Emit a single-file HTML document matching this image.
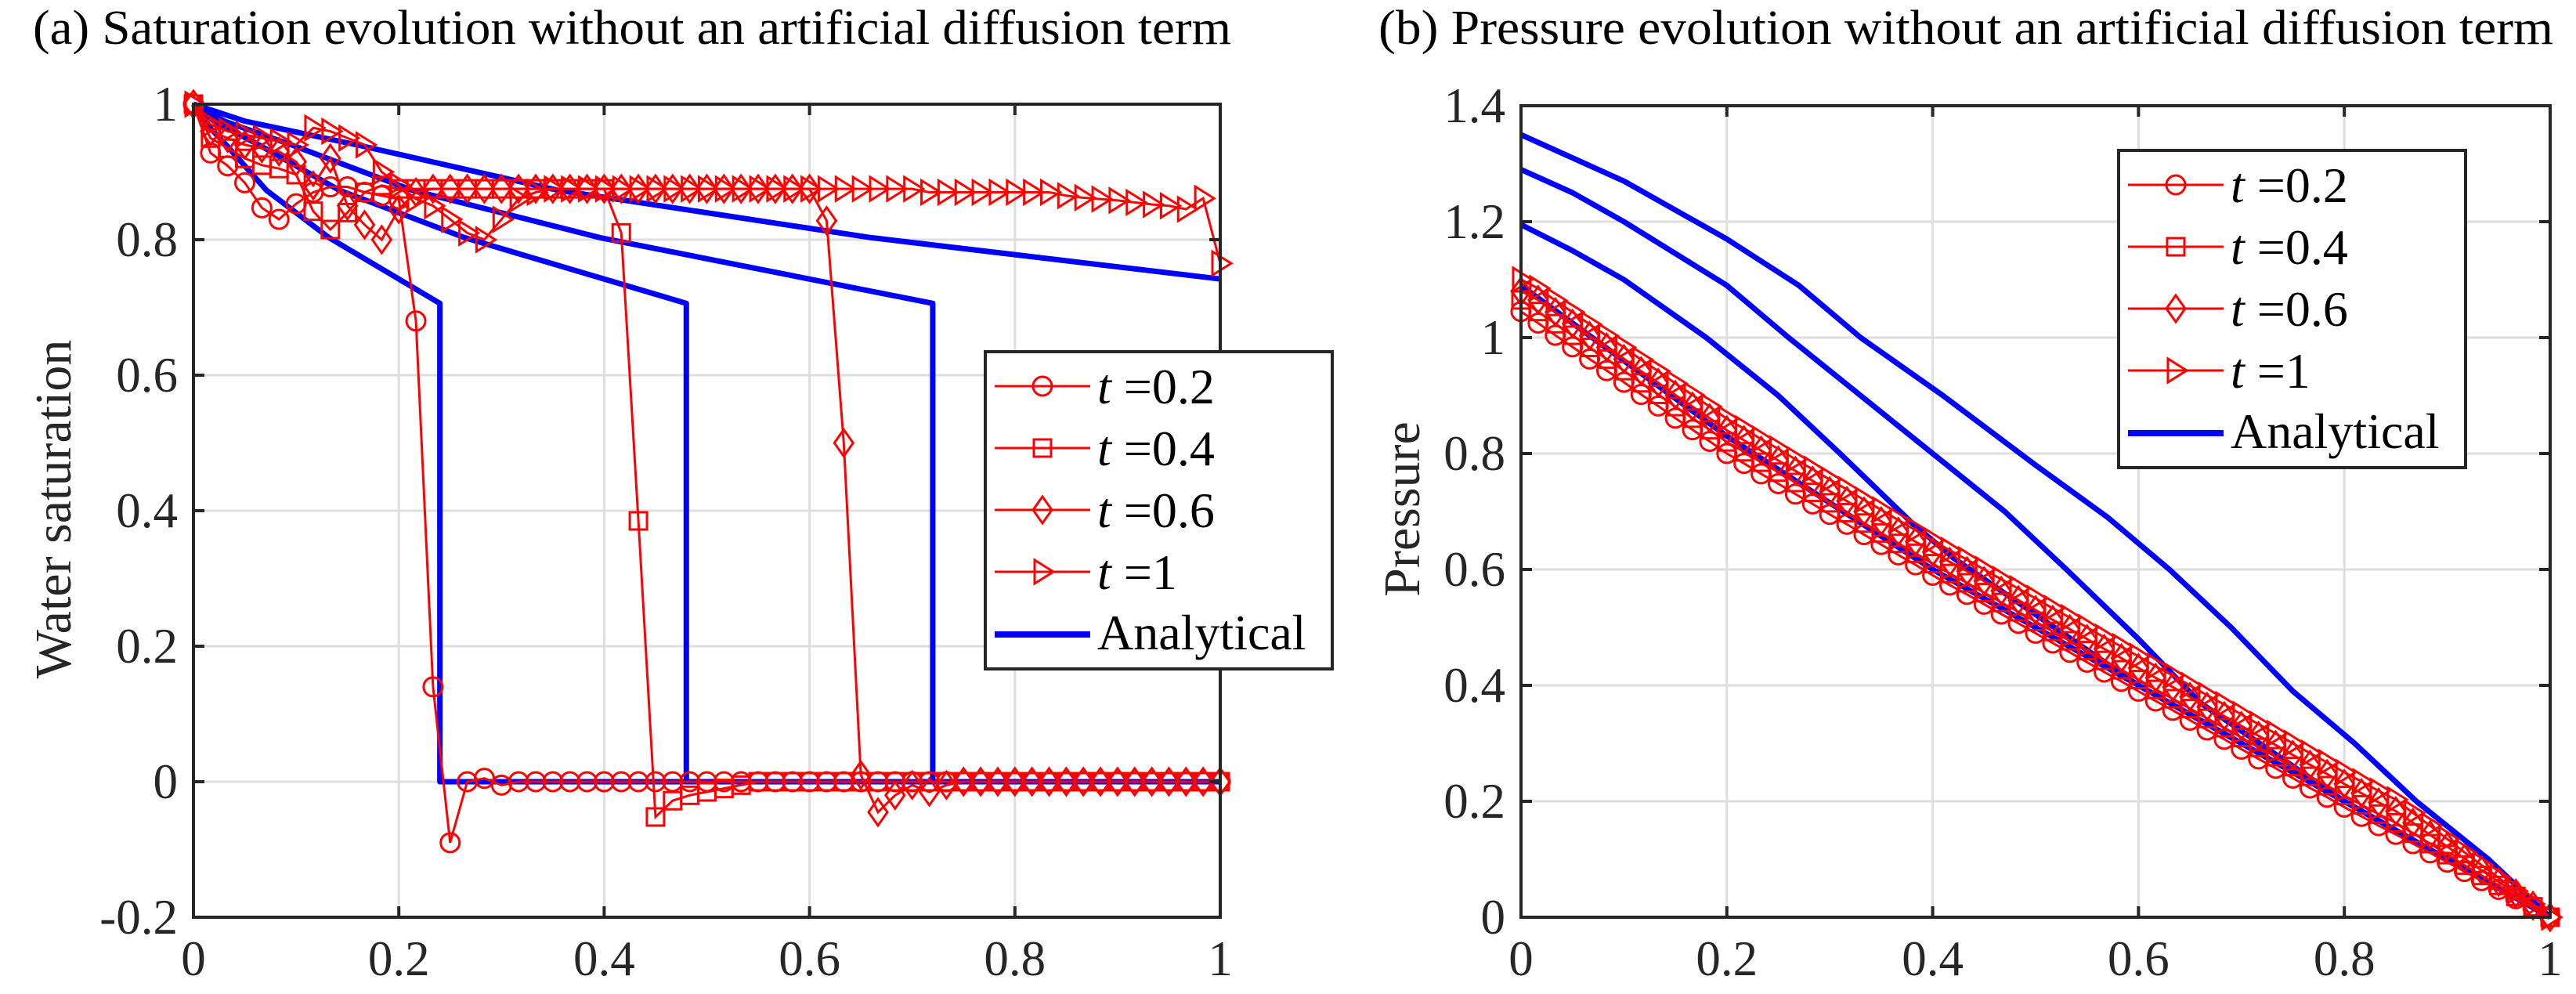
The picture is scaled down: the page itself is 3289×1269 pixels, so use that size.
<!DOCTYPE html>
<html><head><meta charset="utf-8"><style>
html,body{margin:0;padding:0;background:#fff;}
svg{display:block;font-family:"Liberation Serif",serif;}
svg text{font-family:"Liberation Serif",serif;}
</style></head><body>
<svg id="fig" width="3289" height="1269" viewBox="0 0 3289 1269" xmlns="http://www.w3.org/2000/svg" font-family="Liberation Serif, serif">
<rect x="0" y="0" width="3289" height="1269" fill="#fff"/>
<text x="42" y="56" font-size="62" textLength="1530" lengthAdjust="spacingAndGlyphs" fill="#000">(a) Saturation evolution without an artificial diffusion term</text>
<text x="1760" y="56" font-size="62" textLength="1500" lengthAdjust="spacingAndGlyphs" fill="#000">(b) Pressure evolution without an artificial diffusion term</text>
<text transform="translate(90,650) rotate(-90)" text-anchor="middle" font-size="66" fill="#262626">Water saturation</text>
<text transform="translate(1812,650) rotate(-90)" text-anchor="middle" font-size="66" fill="#262626">Pressure</text>
<g id="pa"></g>
<g id="pb"></g>
</svg>
<script>
// ---------- data: plot (a) saturation ----------
const xTicks = [0, 0.2, 0.4, 0.6, 0.8, 1];
const xTickLabels = ["0", "0.2", "0.4", "0.6", "0.8", "1"];
const satTicks = [-0.2, 0, 0.2, 0.4, 0.6, 0.8, 1];
const satTickLabels = ["-0.2", "0", "0.2", "0.4", "0.6", "0.8", "1"];
const presTicks = [0, 0.2, 0.4, 0.6, 0.8, 1, 1.2, 1.4];
const presTickLabels = ["0", "0.2", "0.4", "0.6", "0.8", "1", "1.2", "1.4"];
const gridX = [0,0.016667,0.033333,0.05,0.066667,0.083333,0.1,0.116667,0.133333,0.15,0.166667,0.183333,0.2,0.216667,0.233333,0.25,0.266667,0.283333,0.3,0.316667,0.333333,0.35,0.366667,0.383333,0.4,0.416667,0.433333,0.45,0.466667,0.483333,0.5,0.516667,0.533333,0.55,0.566667,0.583333,0.6,0.616667,0.633333,0.65,0.666667,0.683333,0.7,0.716667,0.733333,0.75,0.766667,0.783333,0.8,0.816667,0.833333,0.85,0.866667,0.883333,0.9,0.916667,0.933333,0.95,0.966667,0.983333,1];
const satT02 = [1,0.928,0.909,0.884,0.847,0.83,0.853,0.87,0.878,0.878,0.87,0.865,0.86,0.68,0.14,-0.09,0,0.005,-0.005,0,0,0,0,0,0,0,0,0,0,0,0,0,0,0,0,0,0,0,0,0,0,0,0,0,0,0,0,0,0,0,0,0,0,0,0,0,0,0,0,0,0];
const satT04 = [1,0.95,0.935,0.92,0.91,0.905,0.896,0.842,0.815,0.84,0.87,0.88,0.875,0.875,0.875,0.875,0.875,0.875,0.875,0.875,0.875,0.875,0.875,0.875,0.875,0.81,0.385,-0.052,-0.028,-0.02,-0.015,-0.01,-0.005,0,0,0,0,0,0,0,0,0,0,0,0,0,0,0,0,0,0,0,0,0,0,0,0,0,0,0,0];
const satT06 = [1,0.96,0.95,0.94,0.935,0.93,0.915,0.88,0.92,0.85,0.822,0.8,0.845,0.87,0.875,0.875,0.875,0.875,0.875,0.875,0.875,0.875,0.875,0.875,0.875,0.875,0.875,0.875,0.875,0.875,0.875,0.875,0.875,0.875,0.875,0.875,0.875,0.828,0.5,0.01,-0.045,-0.02,-0.005,-0.015,-0.005,0,0,0,0,0,0,0,0,0,0,0,0,0,0,0,0];
const satT1 = [1,0.97,0.96,0.955,0.95,0.945,0.94,0.965,0.96,0.95,0.94,0.9,0.88,0.86,0.85,0.83,0.81,0.8,0.83,0.86,0.87,0.875,0.875,0.875,0.875,0.875,0.875,0.875,0.875,0.875,0.875,0.875,0.875,0.875,0.875,0.875,0.875,0.875,0.875,0.875,0.875,0.875,0.875,0.87,0.87,0.87,0.87,0.87,0.87,0.87,0.87,0.865,0.862,0.86,0.858,0.855,0.852,0.85,0.845,0.861,0.765];
const anaSatX02 = [0,0.01,0.033,0.071,0.132,0.24,0.24,1];
const anaSatY02 = [1,0.975,0.938,0.873,0.803,0.706,0,0];
const anaSatX04 = [0,0.02,0.066,0.142,0.264,0.48,0.48,1];
const anaSatY04 = [1,0.975,0.938,0.873,0.803,0.706,0,0];
const anaSatX06 = [0,0.03,0.099,0.213,0.396,0.72,0.72,1];
const anaSatY06 = [1,0.975,0.938,0.873,0.803,0.706,0,0];
const anaSatX1 = [0,0.05,0.165,0.355,0.66,1];
const anaSatY1 = [1,0.975,0.938,0.873,0.803,0.742];
// ---------- data: plot (b) pressure ----------
const presT02 = [1.045,1.025,1.004,0.984,0.963,0.943,0.923,0.902,0.882,0.861,0.841,0.821,0.800,0.783,0.765,0.748,0.730,0.713,0.695,0.678,0.660,0.643,0.625,0.608,0.590,0.573,0.557,0.540,0.523,0.507,0.490,0.473,0.457,0.440,0.423,0.407,0.390,0.373,0.357,0.340,0.323,0.307,0.290,0.273,0.257,0.240,0.223,0.207,0.190,0.174,0.158,0.143,0.127,0.111,0.095,0.079,0.063,0.048,0.032,0.016,0];
const presT04 = [1.065,1.045,1.024,1.004,0.983,0.963,0.943,0.922,0.902,0.881,0.861,0.841,0.820,0.803,0.785,0.768,0.750,0.733,0.715,0.698,0.680,0.663,0.645,0.628,0.610,0.593,0.577,0.560,0.543,0.527,0.510,0.493,0.477,0.460,0.443,0.427,0.410,0.393,0.377,0.360,0.343,0.327,0.310,0.293,0.277,0.260,0.243,0.227,0.210,0.194,0.178,0.163,0.145,0.127,0.108,0.090,0.072,0.055,0.036,0.018,0];
const presT06 = [1.080,1.065,1.044,1.024,1.003,0.983,0.963,0.942,0.922,0.901,0.881,0.861,0.840,0.823,0.805,0.788,0.770,0.753,0.735,0.718,0.700,0.683,0.665,0.648,0.630,0.613,0.597,0.580,0.563,0.547,0.530,0.513,0.497,0.480,0.463,0.447,0.430,0.413,0.397,0.380,0.363,0.347,0.330,0.313,0.297,0.280,0.263,0.247,0.230,0.214,0.198,0.183,0.163,0.142,0.122,0.101,0.081,0.061,0.041,0.020,0];
const presT1 = [1.100,1.085,1.064,1.044,1.023,1.003,0.983,0.962,0.942,0.921,0.901,0.881,0.860,0.843,0.825,0.808,0.790,0.773,0.755,0.738,0.720,0.703,0.685,0.668,0.650,0.633,0.617,0.600,0.583,0.567,0.550,0.533,0.517,0.500,0.483,0.467,0.450,0.433,0.417,0.400,0.383,0.367,0.350,0.333,0.317,0.300,0.283,0.267,0.250,0.234,0.218,0.203,0.180,0.158,0.135,0.112,0.090,0.068,0.045,0.023,0];
const anaPresX02 = [0,0.1,0.2,0.4,0.6,0.8,1];
const anaPresY02 = [1.09,0.96,0.83,0.60,0.40,0.2,0];
const anaPresX04 = [0,0.05,0.1,0.18,0.25,0.31,0.38,0.42,0.6,0.8,1];
const anaPresY04 = [1.195,1.15,1.1,1.0,0.9,0.8,0.68,0.62,0.40,0.2,0];
const anaPresX06 = [0,0.05,0.1,0.2,0.26,0.33,0.4,0.47,0.53,0.6,0.66,0.8,1];
const anaPresY06 = [1.29,1.25,1.2,1.09,1.0,0.9,0.8,0.7,0.6,0.48,0.37,0.2,0];
const anaPresX1 = [0,0.05,0.1,0.2,0.27,0.33,0.41,0.5,0.57,0.63,0.69,0.75,0.81,0.87,0.94,1];
const anaPresY1 = [1.35,1.31,1.27,1.17,1.09,1.0,0.9,0.78,0.69,0.6,0.5,0.39,0.3,0.2,0.1,0];
const legendLabels = ["0.2", "0.4", "0.6", "1"];

const NS = "http://www.w3.org/2000/svg";
function mk(parent, tag, attrs) {
  const e = document.createElementNS(NS, tag);
  for (const k in attrs) e.setAttribute(k, attrs[k]);
  parent.appendChild(e);
  return e;
}
function markerShape(g, type, x, y) {
  let e;
  if (type === "circle") e = mk(g, "circle", {cx: x, cy: y, r: 12});
  else if (type === "square") e = mk(g, "rect", {x: x - 11, y: y - 11, width: 22, height: 22});
  else if (type === "diamond") e = mk(g, "polygon", {points: `${x},${y-17} ${x+12},${y} ${x},${y+17} ${x-12},${y}`});
  else e = mk(g, "polygon", {points: `${x+14},${y} ${x-10},${y-15} ${x-10},${y+15}`});
  e.setAttribute("fill", "none");
  e.setAttribute("stroke", "#ff0000");
  e.setAttribute("stroke-width", "3");
  return e;
}
function buildPlot(gid, L, R, T, B, yMin, yMax, yTicks, yLabels, analytical, numerical, legX, legY, prefix) {
  const g = document.getElementById(gid);
  const X = v => L + v * (R - L);
  const Y = v => B - (v - yMin) / (yMax - yMin) * (B - T);
  xTicks.forEach(v => {
    if (v > 0 && v < 1) {
      const gl = mk(g, "line", {x1: X(v), x2: X(v), y1: T, y2: B, stroke: "#dedede", "stroke-width": 3});
      
      
    }
  });
  yTicks.forEach(v => {
    if (v > yMin && v < yMax) {
      const gl = mk(g, "line", {x1: L, x2: R, y1: Y(v), y2: Y(v), stroke: "#dedede", "stroke-width": 3});
      
      
    }
  });
  analytical.forEach(s => {
    const pts = s.x.map((v, i) => X(v) + "," + Y(s.y[i])).join(" ");
    const pl = mk(g, "polyline", {points: pts, fill: "none", stroke: "#0000ff", "stroke-width": 7, "stroke-linejoin": "round"});
    
    
  });
  numerical.forEach(s => {
    const sg = mk(g, "g", {});
    
    
    const pts = gridX.map((v, i) => X(v) + "," + Y(s.y[i])).join(" ");
    const pl = mk(sg, "polyline", {points: pts, fill: "none", stroke: "#ff0000", "stroke-width": 3});
    
    
    gridX.forEach((v, i) => {
      const m = markerShape(sg, s.marker, X(v), Y(s.y[i]));
      
      
    });
  });
  const box = mk(g, "rect", {x: L, y: T, width: R - L, height: B - T, fill: "none", stroke: "#262626", "stroke-width": 4});
  
  
  xTicks.forEach((v, i) => {
    const t1 = mk(g, "line", {x1: X(v), x2: X(v), y1: B, y2: B - 14, stroke: "#262626", "stroke-width": 4});
    
    
    const t2 = mk(g, "line", {x1: X(v), x2: X(v), y1: T, y2: T + 14, stroke: "#262626", "stroke-width": 4});
    
    
    const lb = mk(g, "text", {x: X(v), y: B + 74, "text-anchor": "middle", "font-size": 63, fill: "#262626", "font-family": "Liberation Serif, serif"});
    lb.textContent = xTickLabels[i];
    
    
  });
  yTicks.forEach((v, i) => {
    const t1 = mk(g, "line", {x1: L, x2: L + 14, y1: Y(v), y2: Y(v), stroke: "#262626", "stroke-width": 4});
    
    
    const t2 = mk(g, "line", {x1: R, x2: R - 14, y1: Y(v), y2: Y(v), stroke: "#262626", "stroke-width": 4});
    
    
    const lb = mk(g, "text", {x: L - 20, y: Y(v) + 21, "text-anchor": "end", "font-size": 63, fill: "#262626", "font-family": "Liberation Serif, serif"});
    lb.textContent = yLabels[i];
    
    
  });
  const lg = mk(g, "g", {});
  
  
  const lr = mk(lg, "rect", {x: legX, y: legY, width: 443, height: 405, fill: "#fff", stroke: "#262626", "stroke-width": 4});
  
  
  const rows = [44, 123, 202, 281];
  numerical.forEach((s, k) => {
    const yy = legY + rows[k];
    const eg = mk(lg, "g", {});
    
    
    mk(eg, "line", {x1: legX + 12, x2: legX + 134, y1: yy, y2: yy, stroke: "#ff0000", "stroke-width": 3});
    markerShape(eg, s.marker, legX + 73, yy);
    const tx = mk(eg, "text", {x: legX + 143, y: yy + 22, "font-size": 64, fill: "#000", "font-family": "Liberation Serif, serif"});
    const ts = mk(tx, "tspan", {"font-style": "italic"});
    ts.textContent = "t";
    const ts2 = mk(tx, "tspan", {});
    ts2.textContent = " =" + legendLabels[k];
  });
  const ag = mk(lg, "g", {});
  
  
  mk(ag, "line", {x1: legX + 12, x2: legX + 134, y1: legY + 361, y2: legY + 361, stroke: "#0000ff", "stroke-width": 8});
  const at = mk(ag, "text", {x: legX + 143, y: legY + 380, "font-size": 64, fill: "#000", "font-family": "Liberation Serif, serif"});
  at.textContent = "Analytical";
}
buildPlot("pa", 247, 1558, 133, 1171, -0.2, 1, satTicks, satTickLabels,
  [{name: "t0.2", x: anaSatX02, y: anaSatY02}, {name: "t0.4", x: anaSatX04, y: anaSatY04},
   {name: "t0.6", x: anaSatX06, y: anaSatY06}, {name: "t1", x: anaSatX1, y: anaSatY1}],
  [{name: "0.2", y: satT02, marker: "circle"}, {name: "0.4", y: satT04, marker: "square"},
   {name: "0.6", y: satT06, marker: "diamond"}, {name: "1", y: satT1, marker: "triangle"}],
  1258, 449, "sat");
buildPlot("pb", 1942, 3256, 135, 1171, 0, 1.4, presTicks, presTickLabels,
  [{name: "t0.2", x: anaPresX02, y: anaPresY02}, {name: "t0.4", x: anaPresX04, y: anaPresY04},
   {name: "t0.6", x: anaPresX06, y: anaPresY06}, {name: "t1", x: anaPresX1, y: anaPresY1}],
  [{name: "0.2", y: presT02, marker: "circle"}, {name: "0.4", y: presT04, marker: "square"},
   {name: "0.6", y: presT06, marker: "diamond"}, {name: "1", y: presT1, marker: "triangle"}],
  2705, 192, "pres");
</script>
</body></html>
